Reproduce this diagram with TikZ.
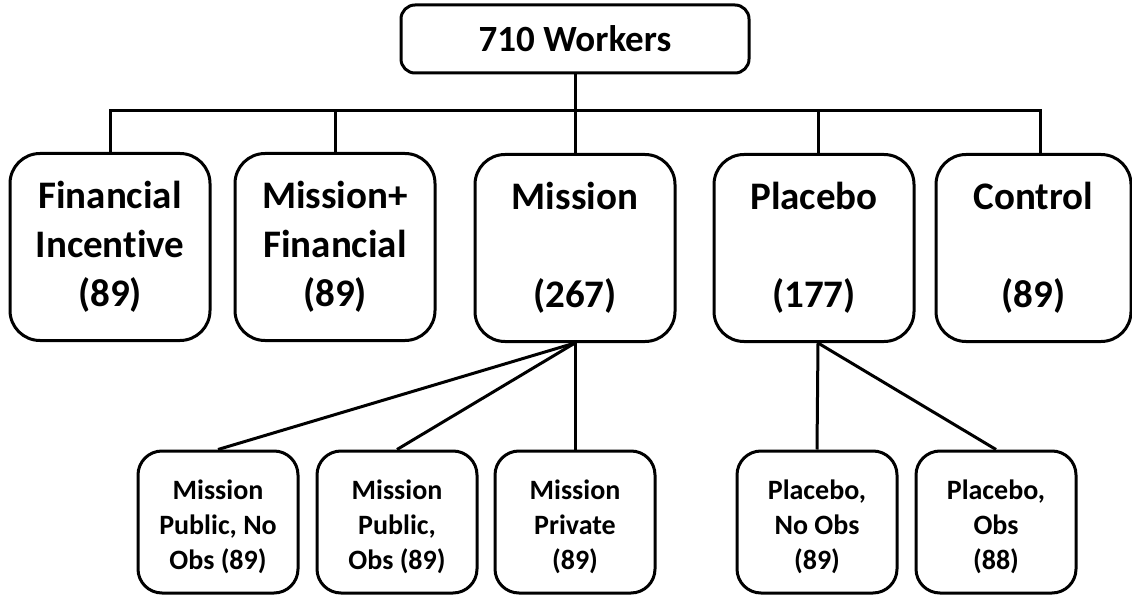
\documentclass[tikz,border=0pt]{standalone}
\usepackage{fontspec}
\setmainfont{Carlito}[Ligatures=NoCommon]
\newcommand\padtop{\rule{0pt}{29pt}}
\begin{document}
\begin{tikzpicture}[x=1pt,y=-1pt,
  box/.style={draw=black,line width=3pt,rounded corners=30pt,align=center,inner sep=0pt},
  bigbox/.style={box,minimum width=200pt,minimum height=187pt,font=\fontsize{39}{49}\selectfont\bfseries},
  smallbox/.style={box,rounded corners=24pt,minimum width=160pt,minimum height=142pt,font=\fontsize{28}{35}\selectfont\bfseries},
  link/.style={draw=black,line width=3pt}]
\useasboundingbox (0,0) rectangle (1132,596);
\fill[white] (0,0) rectangle (1132,596);
\node[box,rounded corners=14pt,minimum width=348pt,minimum height=68pt,font=\fontsize{37}{45}\selectfont\bfseries] (top) at (575,39) {710 Workers};
\node[bigbox] (fi) at (110,247) {Financial\\Incentive\\(89)};
\node[bigbox] (mf) at (335,247) {Mission+\\Financial\\(89)};
\node[bigbox] (mi) at (575,248) {Mission\\\mbox{}\\(267)};
\node[bigbox] (pl) at (814,248) {Placebo\\\mbox{}\\(177)};
\node[bigbox,minimum width=195pt] (co) at (1033.5,248) {Control\\\mbox{}\\(89)};
\node[smallbox] (s1) at (218,522) {\padtop Mission\\Public, No\\Obs (89)};
\node[smallbox] (s2) at (397,522) {\padtop Mission\\Public,\\Obs (89)};
\node[smallbox] (s3) at (575,522) {\padtop Mission\\Private\\(89)};
\node[smallbox] (s4) at (817,522) {\padtop Placebo,\\No Obs\\(89)};
\node[smallbox] (s5) at (996,522) {\padtop Placebo,\\Obs\\(88)};
\coordinate (bus) at (0,111);
\draw[link] (top.south) -- (mi.north);
\draw[link] (fi.north) -- (fi.north |- bus) -- ([xshift=6.5pt]co.north |- bus) -- ([xshift=6.5pt]co.north);
\draw[link] (mf.north) -- (mf.north |- bus);
\draw[link] ([xshift=4pt]pl.north) -- ([xshift=4pt]pl.north |- bus);
\draw[link] (mi.south) -- (s1.north);
\draw[link] (mi.south) -- (s2.north);
\draw[link] (mi.south) -- (s3.north);
\draw[link] ([xshift=4pt]pl.south) -- (s4.north);
\draw[link] ([xshift=4pt]pl.south) -- (s5.north);
\end{tikzpicture}
\end{document}
